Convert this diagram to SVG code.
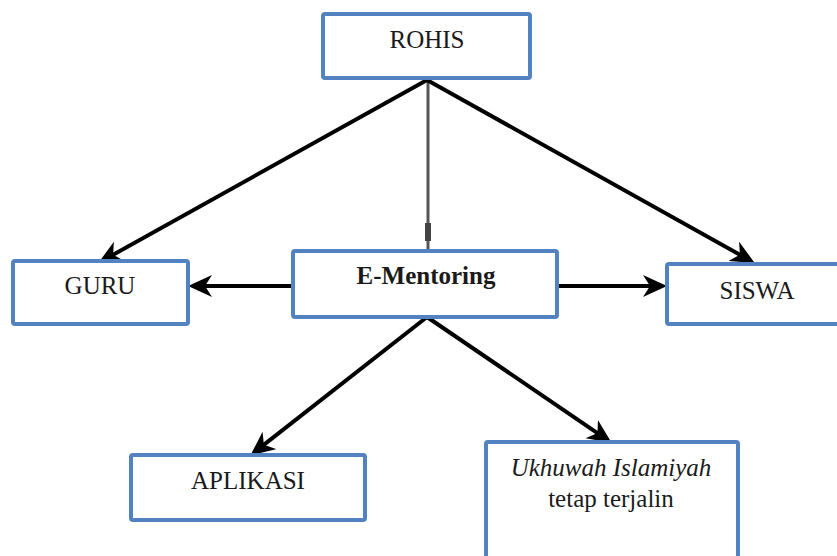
<svg xmlns="http://www.w3.org/2000/svg" width="837" height="556" viewBox="0 0 837 556">
<style>
.box{fill:#fff;stroke:#5282bf;stroke-width:4}
.t{font-family:'Liberation Serif',serif;font-size:25px;fill:#1a1a1a;text-anchor:middle}
.c{stroke:#000;stroke-width:4;fill:none}
</style>
<defs>
<marker id="ah" markerUnits="userSpaceOnUse" markerWidth="26" markerHeight="24" refX="10" refY="12" orient="auto">
<path d="M0,1 L24,12 L0,23 L7,12 Z" fill="#000"/>
</marker>
</defs>
<rect width="837" height="556" fill="#fff"/>
<g id="connectors">
<line x1="428" y1="80" x2="428" y2="250" stroke="#555" stroke-width="3"/>
<rect x="425" y="223" width="6" height="18" fill="#444"/>
<line class="c" x1="427" y1="80" x2="110.5" y2="256.2" marker-end="url(#ah)"/>
<line class="c" x1="427" y1="80" x2="742.5" y2="256.2" marker-end="url(#ah)"/>
<line class="c" x1="293" y1="286" x2="202" y2="286" marker-end="url(#ah)"/>
<line class="c" x1="557" y1="286" x2="653" y2="286" marker-end="url(#ah)"/>
<line class="c" x1="427" y1="317" x2="261.5" y2="446.6" marker-end="url(#ah)"/>
<line class="c" x1="427" y1="317" x2="600" y2="434.8" marker-end="url(#ah)"/>
</g>
<g id="rohis">
<rect class="box" x="323" y="14" width="207" height="64" rx="2"/>
<text class="t" x="427" y="48">ROHIS</text>
</g>
<g id="guru">
<rect class="box" x="13" y="261" width="175" height="63" rx="2"/>
<text class="t" x="100" y="294">GURU</text>
</g>
<g id="ementoring">
<rect class="box" x="293" y="251" width="264" height="66" rx="2"/>
<text class="t" x="426" y="284" font-weight="bold">E-Mentoring</text>
</g>
<g id="siswa">
<rect class="box" x="667" y="264" width="172" height="60" rx="2"/>
<text class="t" x="757" y="299">SISWA</text>
</g>
<g id="aplikasi">
<rect class="box" x="131" y="455" width="234" height="65" rx="2"/>
<text class="t" x="248" y="489">APLIKASI</text>
</g>
<g id="ukhuwah">
<rect class="box" x="486" y="442" width="252" height="130" rx="2"/>
<text class="t" x="611" y="476" font-style="italic">Ukhuwah Islamiyah</text>
<text class="t" x="611" y="507">tetap terjalin</text>
</g>
</svg>
